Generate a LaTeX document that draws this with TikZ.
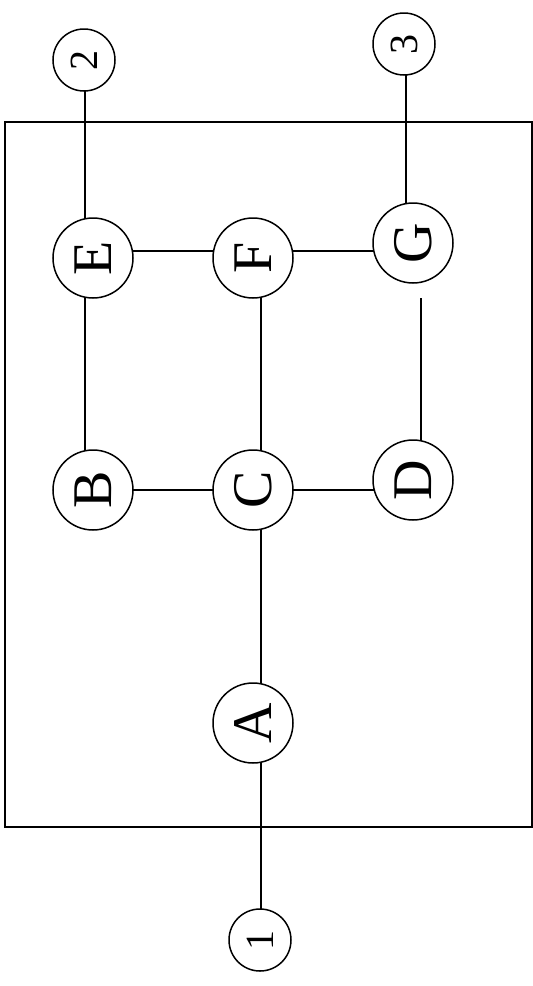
\documentclass[tikz,border=0pt]{standalone}
\usepackage{fontspec}
\setmainfont{Liberation Serif}
\usetikzlibrary{calc}
\begin{document}
\begin{tikzpicture}[x=1pt,y=-1pt,line width=1.5pt,
  big/.style={circle,draw,minimum size=80pt,inner sep=0pt,font=\fontsize{56}{60}\selectfont,rotate=90},
  small/.style={circle,draw,minimum size=62pt,inner sep=0pt,font=\fontsize{40}{44}\selectfont,rotate=90}]
\useasboundingbox (0,0) rectangle (533,986);
\draw (5,122) rectangle (532,827);
\node[small] (n1) at (260,940) {1};
\node[small] (n2) at (84,60) {2};
\node[small] (n3) at (404,44) {3};
\node[big] (A) at (253,723) {A};
\node[big] (B) at (93,490) {B};
\node[big] (C) at (253,490) {C};
\node[big] (D) at (413,480) {D};
\node[big] (E) at (93,258) {E};
\node[big] (F) at (253,258) {F};
\node[big] (G) at (413,243) {G};
\draw ($(n1)+(1,-31)$) -- ($(A)+(8,39)$);
\draw ($(A)+(8,-39)$) -- ($(C)+(8,39)$);
\draw ($(B)+(40,0)$) -- ($(C)+(-40,0)$);
\draw ($(C)+(40,0)$) -- ($(D)+(-38.7,10)$);
\draw ($(B)+(-8,-39)$) -- ($(E)+(-8,39)$);
\draw ($(C)+(8,-39)$) -- ($(F)+(8,39)$);
\draw ($(D)+(8,-39)$) -- ($(G)+(8,55)$);
\draw ($(E)+(39,-7)$) -- ($(F)+(-39,-7)$);
\draw ($(F)+(39,-7)$) -- ($(G)+(-39,8)$);
\draw ($(n2)+(1,31)$) -- ($(E)+(-8,-39)$);
\draw ($(n3)+(2,31)$) -- ($(G)+(-7,-39)$);
\end{tikzpicture}
\end{document}
